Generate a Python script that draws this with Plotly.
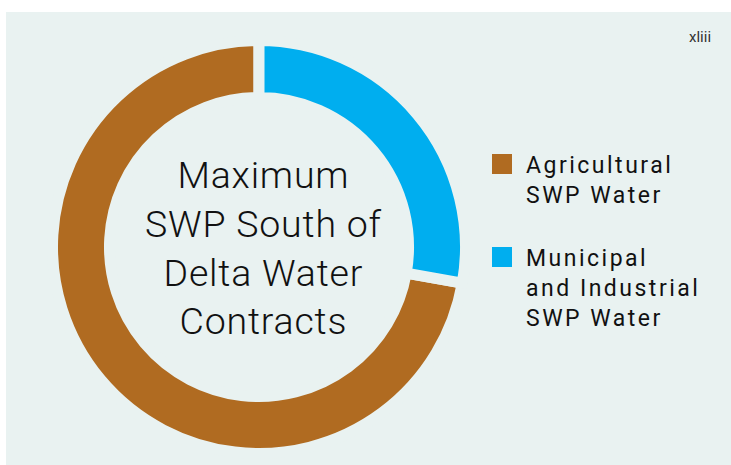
import plotly.graph_objects as go

# ---- data ----
categories = ["Agricultural SWP Water", "Municipal and Industrial SWP Water"]
legend_lines = [["Agricultural", "SWP Water"], ["Municipal", "and Industrial", "SWP Water"]]
values = [72.2, 27.8]
colors = ["#B06B21", "#00AEEF"]
center_lines = ["Maximum", "SWP South of", "Delta Water", "Contracts"]
page_label = "xliii"

W, H = 731, 465
BG = "#E9F2F1"

def px_x(v):
    return v / W

def px_y(v):
    return 1 - v / H

# start the first (agricultural) slice where the municipal slice ends
start_angle = values[1] / sum(values) * 360

fig = go.Figure()
fig.add_trace(go.Pie(
    labels=categories,
    values=values,
    hole=0.724,
    sort=False,
    direction="clockwise",
    rotation=start_angle,
    marker=dict(colors=colors, line=dict(color=BG, width=11)),
    textinfo="none",
    hoverinfo="label+percent",
    showlegend=False,
    domain=dict(x=[px_x(52.5), px_x(465.5)], y=[px_y(453.5), px_y(40.5)]),
))

shapes = [dict(type="rect", xref="paper", yref="paper",
               x0=px_x(6), x1=1.0, y0=0.0, y1=px_y(12),
               fillcolor=BG, line=dict(width=0), layer="below")]

center_txt = "<br>".join('<span style="letter-spacing:0.8px">%s</span>' % l for l in center_lines)
annotations = [
    dict(text=center_txt, x=px_x(263.5), y=px_y(247.5),
         xref="paper", yref="paper", xanchor="center", yanchor="middle",
         showarrow=False, align="center",
         font=dict(family="Roboto", size=37.5, color="#111111", weight=300)),
    dict(text=page_label, x=px_x(713), y=px_y(37), xref="paper", yref="paper",
         xanchor="right", yanchor="middle", showarrow=False,
         font=dict(family="Roboto", size=15, color="#333333")),
]

sq_tops = [154, 247]
txt_mid = [181, 288.5]
for i, lines in enumerate(legend_lines):
    shapes.append(dict(type="rect", xref="paper", yref="paper",
                       x0=px_x(492), x1=px_x(512),
                       y0=px_y(sq_tops[i] + 20), y1=px_y(sq_tops[i]),
                       fillcolor=colors[i], line=dict(width=0)))
    txt = "<br>".join('<span style="letter-spacing:2.5px">%s</span>' % l for l in lines)
    annotations.append(dict(text=txt, x=px_x(524), y=px_y(txt_mid[i]),
                            xref="paper", yref="paper", xanchor="left", yanchor="middle",
                            showarrow=False, align="left",
                            font=dict(family="Roboto", size=23, color="#111111")))

fig.update_layout(
    width=W, height=H,
    margin=dict(l=0, r=0, t=0, b=0),
    paper_bgcolor="white",
    plot_bgcolor="white",
    shapes=shapes,
    annotations=annotations,
)

fig.write_html("out.html")
